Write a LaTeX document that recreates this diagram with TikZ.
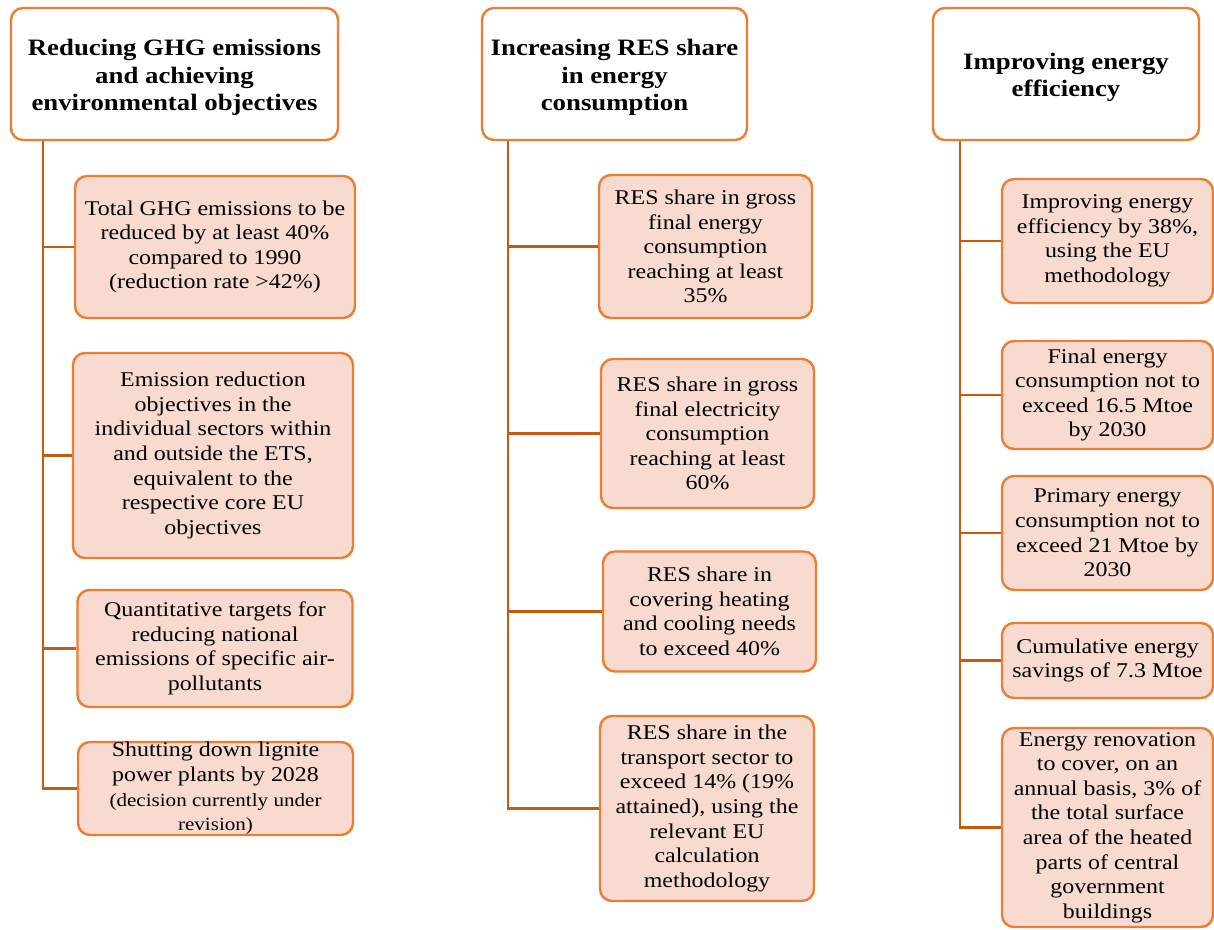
\documentclass[tikz,border=0pt]{standalone}
\usepackage{fontspec}
\setmainfont{Liberation Serif}[FakeStretch=1.14]
\definecolor{boxline}{HTML}{ED7D31}
\definecolor{linkline}{HTML}{C55A11}
\definecolor{boxfill}{HTML}{F8DAD1}
\tikzset{
  head/.style={draw=boxline, line width=2.4pt, fill=white, rounded corners=12pt,
    inner sep=0pt},
  headtext/.style={align=center, inner sep=0pt, yshift=-3.5pt,
    font=\fontsize{23.5}{27.5}\selectfont\bfseries},
  item/.style={draw=boxline, line width=2.4pt, fill=boxfill, rounded corners=12pt,
    align=center, inner sep=0pt,
    font=\fontsize{21}{24.6}\selectfont},
  link/.style={draw=linkline, line width=2.4pt},
}
\newcommand{\smalltext}{\fontsize{18.5}{21.5}\selectfont}
\begin{document}
\begin{tikzpicture}[x=1pt, y=-1pt]
\useasboundingbox (0,0) rectangle (1214,929);

% ---------- column 1 ----------
\node[head, minimum width=327pt, minimum height=132pt,
  label={[headtext]center:Reducing GHG emissions\\and achieving\\environmental objectives}]
  (h1) at (174.5,74) {};
\node[item, minimum width=280pt, minimum height=142pt] (a1) at (215,247)
  {Total GHG emissions to be\\reduced by at least 40\%\\compared to 1990\\(reduction rate >42\%)};
\node[item, minimum width=280pt, minimum height=205pt] (a2) at (213,455.5)
  {Emission reduction\\objectives in the\\individual sectors within\\and outside the ETS,\\equivalent to the\\respective core EU\\objectives};
\node[item, minimum width=275pt, minimum height=117pt] (a3) at (215,648.5)
  {Quantitative targets for\\reducing national\\emissions of specific air-\\pollutants};
\node[item, minimum width=275pt, minimum height=93pt] (a4) at (215.5,788.5)
  {Shutting down lignite\\power plants by 2028\\{\smalltext (decision currently under}\\{\smalltext revision)}};

\foreach \c in {a1,a2,a3,a4}
  \draw[link] ([xshift=33pt]h1.south west) |- (\c.west);

% ---------- column 2 ----------
\node[head, minimum width=265pt, minimum height=132pt,
  label={[headtext]center:Increasing RES share\\in energy\\consumption}]
  (h2) at (614.5,74) {};
\node[item, minimum width=213pt, minimum height=143pt] (b1) at (705.5,246.5)
  {RES share in gross\\final energy\\consumption\\reaching at least\\35\%};
\node[item, minimum width=213pt, minimum height=149pt] (b2) at (707.5,433.5)
  {RES share in gross\\final electricity\\consumption\\reaching at least\\60\%};
\node[item, minimum width=213pt, minimum height=120pt] (b3) at (709.5,611.5)
  {RES share in\\covering heating\\and cooling needs\\to exceed 40\%};
\node[item, minimum width=214pt, minimum height=185pt] (b4) at (707,808.5)
  {RES share in the\\transport sector to\\exceed 14\% (19\%\\attained), using the\\relevant EU\\calculation\\methodology};

\foreach \c in {b1,b2,b3,b4}
  \draw[link] ([xshift=27pt]h2.south west) |- (\c.west);

% ---------- column 3 ----------
\node[head, minimum width=266pt, minimum height=132pt,
  label={[headtext]center:Improving energy\\efficiency}]
  (h3) at (1066,74) {};
\node[item, minimum width=211pt, minimum height=124pt] (c1) at (1107.5,241)
  {Improving energy\\efficiency by 38\%,\\using the EU\\methodology};
\node[item, minimum width=211pt, minimum height=108pt] (c2) at (1107.5,395)
  {Final energy\\consumption not to\\exceed 16.5 Mtoe\\by 2030};
\node[item, minimum width=211pt, minimum height=114pt] (c3) at (1107.5,533)
  {Primary energy\\consumption not to\\exceed 21 Mtoe by\\2030};
\node[item, minimum width=211pt, minimum height=75pt] (c4) at (1107.5,660.5)
  {Cumulative energy\\savings of 7.3 Mtoe};
\node[item, minimum width=211pt, minimum height=199pt] (c5) at (1107.5,827.5)
  {Energy renovation\\to cover, on an\\annual basis, 3\% of\\the total surface\\area of the heated\\parts of central\\government\\buildings};

\foreach \c in {c1,c2,c3,c4,c5}
  \draw[link] ([xshift=28pt]h3.south west) |- (\c.west);
\end{tikzpicture}
\end{document}
